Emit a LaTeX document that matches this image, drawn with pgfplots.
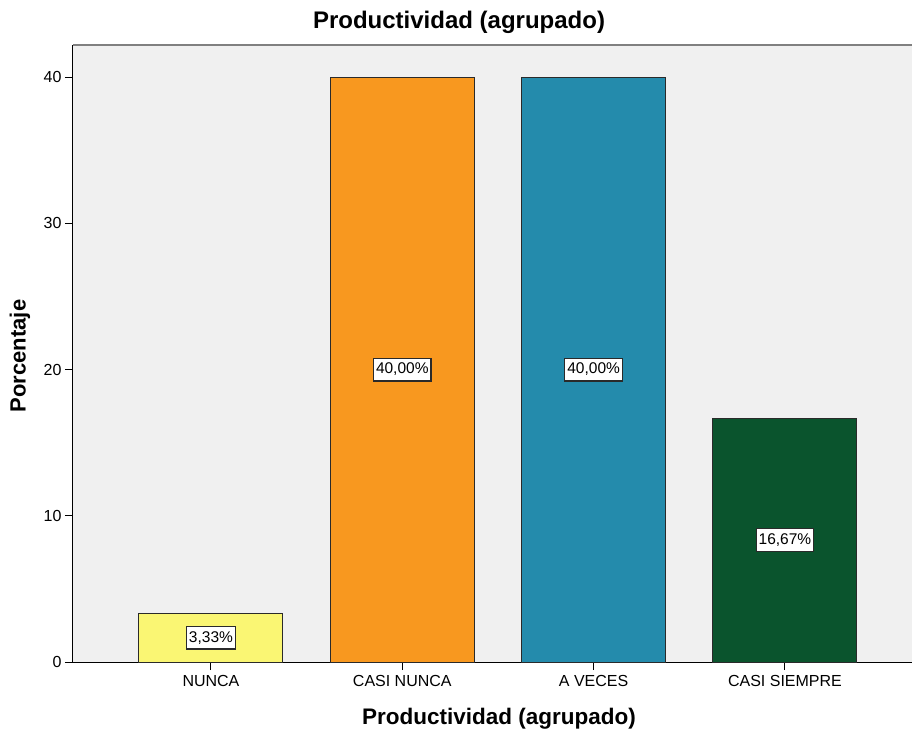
\documentclass[border=0pt]{standalone}
\usepackage{pgfplots}
\pgfplotsset{compat=1.18}
\usepackage{fontspec}
\setmainfont{Liberation Sans}
\definecolor{bgc}{HTML}{F0F0F0}
\definecolor{cyel}{HTML}{FAF673}
\definecolor{cora}{HTML}{F8981F}
\definecolor{ctea}{HTML}{248BAC}
\definecolor{cgre}{HTML}{0A542D}
\definecolor{edge}{HTML}{2A2A2A}
\begin{document}
\begin{tikzpicture}
\begin{axis}[
  name=ax,
  scale only axis, width=839pt, height=617pt,
  xmin=-0.721, xmax=3.664, ymin=0, ymax=42.19,
  axis background/.style={fill=bgc},
  axis x line*=bottom, axis y line*=left,
  axis line style={-, black, line width=1pt},
  xtick={0,1,2,3},
  xticklabels={NUNCA,CASI NUNCA,A VECES,CASI SIEMPRE},
  ytick={0,10,20,30,40},
  tick align=outside, major tick length=8pt,
  tick style={black, line width=1pt},
  ticklabel style={font=\fontsize{16}{19}\selectfont},
  /pgf/number format/assume math mode=true,
  xticklabel style={yshift=-2pt},
  title={Productividad (agrupado)},
  title style={at={([shift={(386pt,17pt)}]axis description cs:0,1)}, anchor=center, font=\bfseries\fontsize{24}{28}\selectfont},
  xlabel={Productividad (agrupado)},
  xlabel style={at={([shift={(426pt,-57pt)}]axis description cs:0,0)}, anchor=center, font=\bfseries\fontsize{22.5}{26}\selectfont},
  ylabel={Porcentaje},
  ylabel style={at={([shift={(-53pt,-2.5pt)}]axis description cs:0,0.5)}, anchor=center, font=\bfseries\fontsize{22}{26}\selectfont},
]
\addplot[ybar, bar width=144pt, bar shift=0pt, fill=cyel, draw=edge, line width=1pt] coordinates {(0,3.33)};
\addplot[ybar, bar width=144pt, bar shift=0pt, fill=cora, draw=edge, line width=1pt] coordinates {(1,40.00)};
\addplot[ybar, bar width=144pt, bar shift=0pt, fill=ctea, draw=edge, line width=1pt] coordinates {(2,40.00)};
\addplot[ybar, bar width=144pt, bar shift=0pt, fill=cgre, draw=edge, line width=1pt] coordinates {(3,16.67)};
\addplot[draw=none, mark=none, point meta=explicit symbolic,
  nodes near coords, nodes near coords align={center},
  nodes near coords style={anchor=center, fill=white, draw=edge, line width=1.2pt, inner xsep=2.5pt, inner ysep=5pt, font=\fontsize{15.5}{18}\selectfont}]
  coordinates {(0,1.665)[{3,33\%}] (1,20)[{40,00\%}] (2,20)[{40,00\%}] (3,8.335)[{16,67\%}]};
\draw[gray, line width=1.5pt] (rel axis cs:0,1) -- (rel axis cs:1,1);
\end{axis}
\pgfresetboundingbox
\path[use as bounding box] ([shift={(-73pt,-69pt)}]ax.south west) rectangle ([shift={(0pt,45pt)}]ax.north east);
\end{tikzpicture}
\end{document}
